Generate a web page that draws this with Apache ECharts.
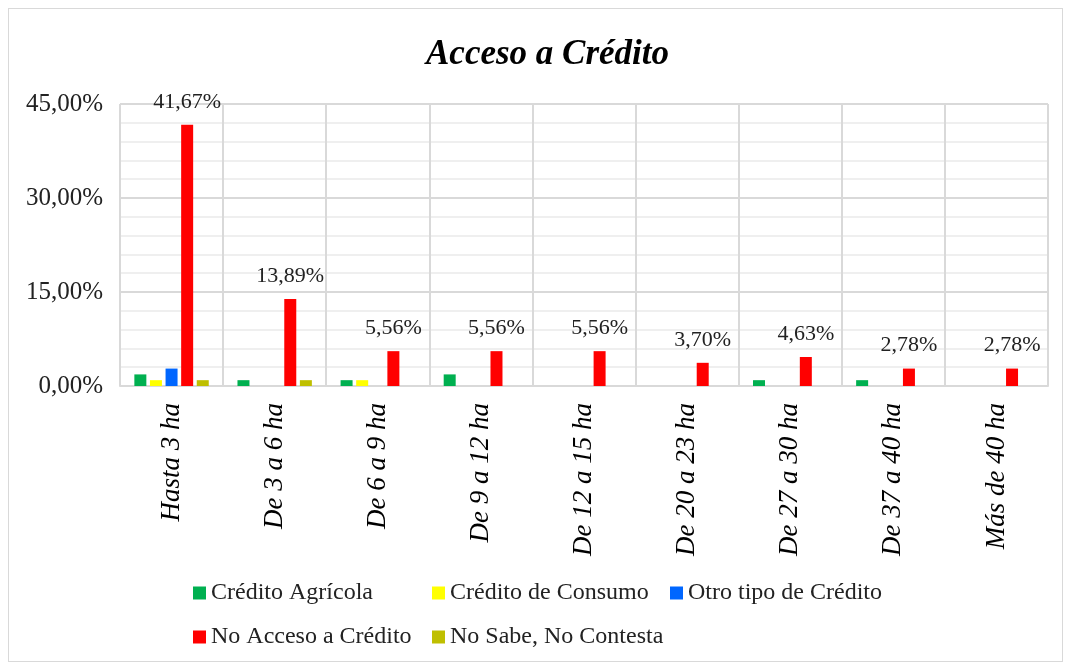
<!DOCTYPE html>
<html>
<head>
<meta charset="utf-8">
<script src="https://cdn.jsdelivr.net/npm/echarts@6/dist/echarts.min.js"></script>
<style>
  html, body { margin: 0; padding: 0; background: #fff; }
  #frame { position: absolute; left: 8px; top: 8px; width: 1053px; height: 652px; border: 1px solid #d9d9d9; }
  #chart { position: absolute; left: 0; top: 0; width: 1068px; height: 666px; }
</style>
</head>
<body>
<div id="frame"></div>
<div id="chart"></div>
<script>
// rangos de superficie
const categories = ['Hasta 3 ha', 'De 3 a 6 ha', 'De 6 a 9 ha', 'De 9 a 12 ha', 'De 12 a 15 ha',
  'De 20 a 23 ha', 'De 27 a 30 ha', 'De 37 a 40 ha', 'Más de 40 ha'];

// porcentajes (%)
const creditoAgricola = [1.85, 0.93, 0.93, 1.85, 0, 0, 0.93, 0.93, 0];
const creditoConsumo = [0.93, 0, 0.93, 0, 0, 0, 0, 0, 0];
const otroCredito = [2.78, 0, 0, 0, 0, 0, 0, 0, 0];
const noAcceso = [41.67, 13.89, 5.56, 5.56, 5.56, 3.70, 4.63, 2.78, 2.78];
const noSabe = [0.93, 0.93, 0, 0, 0, 0, 0, 0, 0];

const yTicks = [0, 15, 30, 45];

const font = 'Liberation Serif';
const pct = v => v.toFixed(2).replace('.', ',') + '%';

const seriesDefs = [
  { name: 'Crédito Agrícola', data: creditoAgricola, color: '#00b050', legendLeft: 193, legendTop: 581 },
  { name: 'Crédito de Consumo', data: creditoConsumo, color: '#ffff00', legendLeft: 432, legendTop: 581 },
  { name: 'Otro tipo de Crédito', data: otroCredito, color: '#0066ff', legendLeft: 670, legendTop: 581 },
  { name: 'No Acceso a Crédito', data: noAcceso, color: '#ff0000', legendLeft: 193, legendTop: 625, label: true },
  { name: 'No Sabe, No Contesta', data: noSabe, color: '#bfbf00', legendLeft: 432, legendTop: 625 },
];

const chart = echarts.init(document.getElementById('chart'));

chart.setOption({
  animation: false,
  textStyle: { fontFamily: font },
  title: {
    text: 'Acceso a Crédito',
    left: 421,
    top: 32,
    textStyle: { fontFamily: font, fontSize: 35, fontWeight: 'bold', fontStyle: 'italic', color: '#000' }
  },
  legend: seriesDefs.map(s => ({
    data: [s.name],
    left: s.legendLeft,
    top: s.legendTop,
    padding: 0,
    itemWidth: 13,
    itemHeight: 13,
    icon: 'rect',
    textStyle: { fontFamily: font, fontSize: 24, color: '#222' }
  })),
  grid: { left: 120, right: 20, top: 104, bottom: 280 },
  xAxis: {
    type: 'category',
    data: categories,
    axisLine: { lineStyle: { color: '#d9d9d9', width: 2 } },
    axisTick: { show: false },
    splitLine: { show: true, lineStyle: { color: '#d9d9d9', width: 2 } },
    axisLabel: {
      rotate: 90,
      interval: 0,
      margin: 17,
      fontFamily: font,
      fontSize: 27,
      fontStyle: 'italic',
      color: '#000'
    }
  },
  yAxis: {
    type: 'value',
    min: yTicks[0],
    max: yTicks[yTicks.length - 1],
    interval: 15,
    axisLine: { show: false },
    axisTick: { show: false },
    axisLabel: { formatter: pct, fontFamily: font, fontSize: 25, color: '#222', margin: 17 },
    splitLine: { lineStyle: { color: '#d9d9d9', width: 2 } },
    minorTick: { show: false, splitNumber: 5 },
    minorSplitLine: { show: true, lineStyle: { color: '#efefef', width: 2 } }
  },
  series: seriesDefs.map(s => ({
    name: s.name,
    type: 'bar',
    data: s.data,
    barWidth: 12,
    barGap: '30%',
    itemStyle: { color: s.color },
    label: s.label ? {
      show: true,
      position: 'top',
      distance: 12,
      formatter: p => pct(p.value),
      fontFamily: font,
      fontSize: 22,
      color: '#222'
    } : { show: false }
  }))
});
</script>
</body>
</html>
